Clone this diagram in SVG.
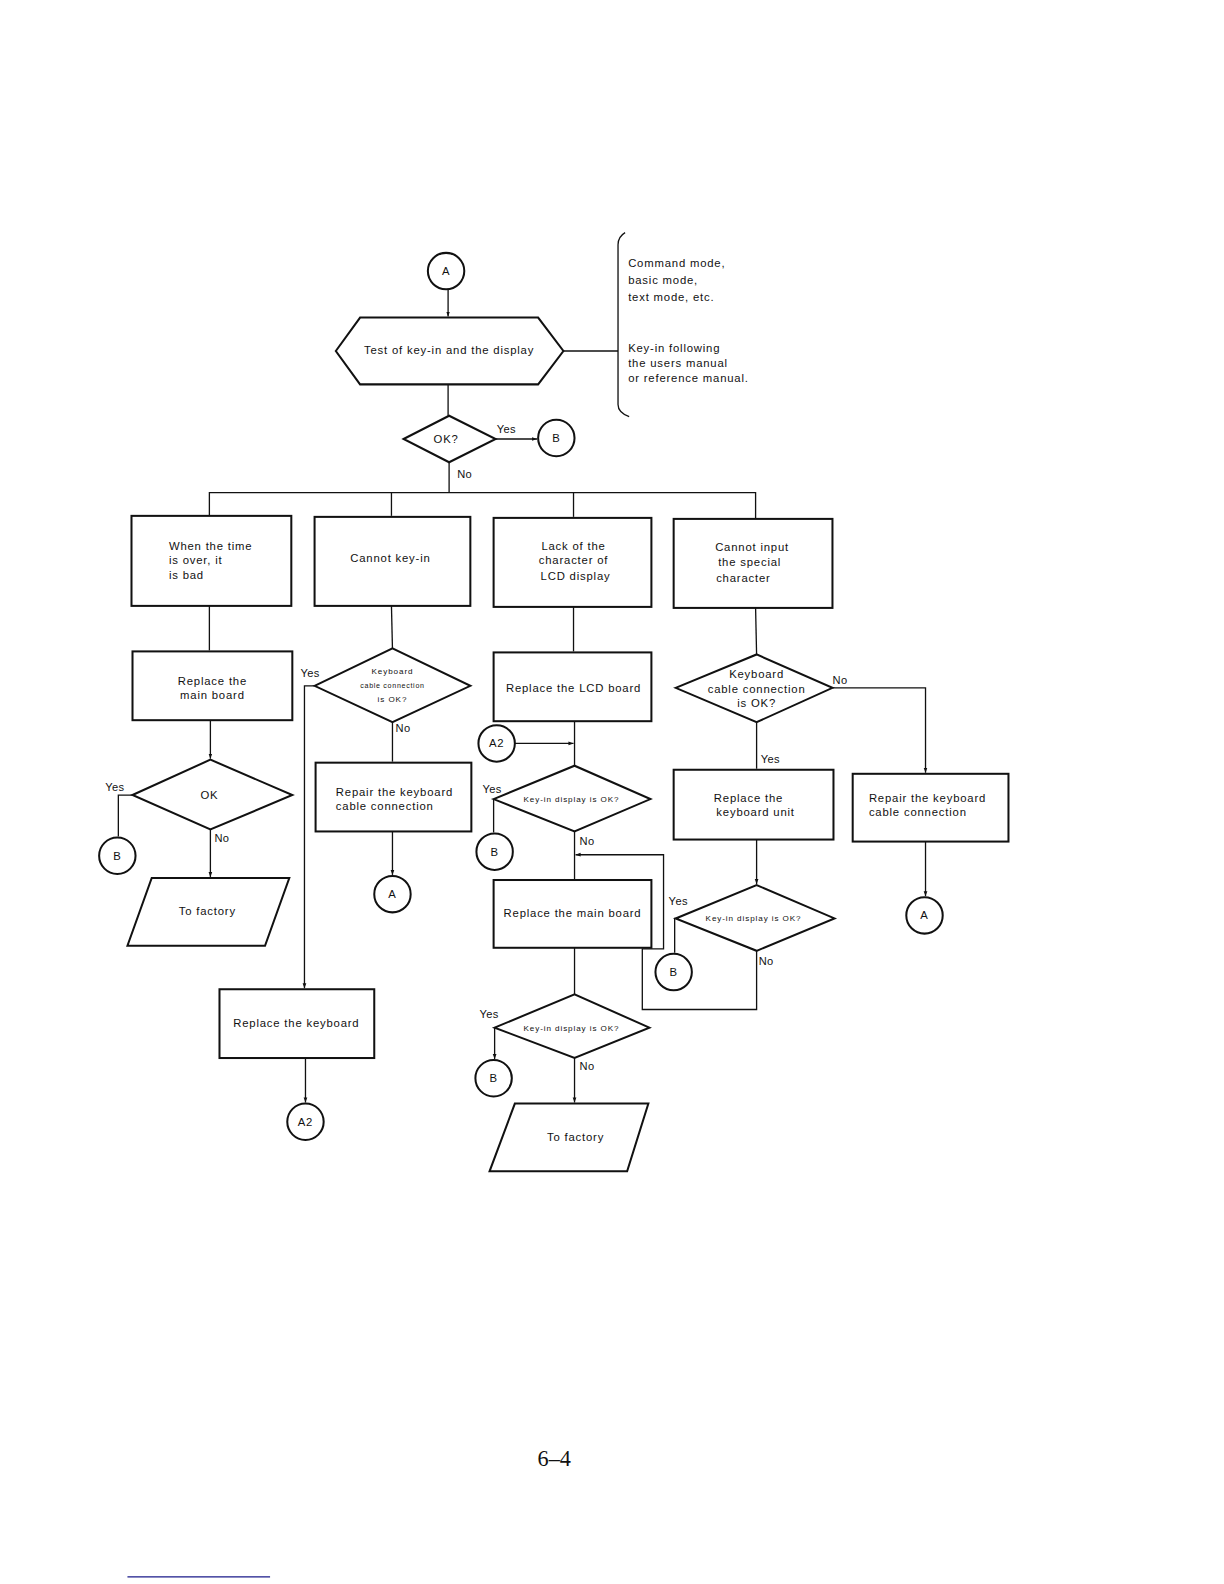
<svg xmlns="http://www.w3.org/2000/svg" width="1224" height="1584" viewBox="0 0 1224 1584">
<defs>
<marker id="ah" viewBox="0 0 6 6" refX="6" refY="3" markerWidth="5" markerHeight="5" orient="auto" markerUnits="userSpaceOnUse">
<path d="M0,0.8 L6,3 L0,5.2 Z" fill="#111"/>
</marker>
</defs>
<style>
.sh{fill:#fff;stroke:#111;stroke-width:2}
.cn{fill:none;stroke:#111;stroke-width:1.3}
.t{font-family:"Liberation Sans",Arial,sans-serif;font-size:11.2px;letter-spacing:0.8px;fill:#111}
.m{text-anchor:middle}
.s{font-size:8px;letter-spacing:0.9px}
.xs{font-size:7px;letter-spacing:0.7px}
.lb{font-family:"Liberation Sans",Arial,sans-serif;font-size:11px;letter-spacing:0.4px;fill:#111}
</style>
<rect width="1224" height="1584" fill="#fff"/>
<g transform="scale(1.0115)">
<g id="connectors">
<line class="cn" x1="443" y1="286" x2="443" y2="313" marker-end="url(#ah)"/>
<line class="cn" x1="557" y1="347" x2="611" y2="347"/>
<line class="cn" x1="443" y1="380" x2="443" y2="411"/>
<line class="cn" x1="490" y1="434" x2="531" y2="434" marker-end="url(#ah)"/>
<line class="cn" x1="444" y1="457" x2="444" y2="487"/>
<polyline class="cn" points="207,510 207,487 747,487 747,512"/>
<line class="cn" x1="387" y1="487" x2="387" y2="510"/>
<line class="cn" x1="567" y1="487" x2="567" y2="511"/>
<line class="cn" x1="207" y1="599" x2="207" y2="643"/>
<line class="cn" x1="208" y1="712" x2="208" y2="750" marker-end="url(#ah)"/>
<polyline class="cn" points="131,786 117,786 117,827"/>
<line class="cn" x1="208" y1="820" x2="208" y2="867" marker-end="url(#ah)"/>
<line class="cn" x1="387" y1="599" x2="388" y2="641"/>
<polyline class="cn" points="311,678 301,678 301,977" marker-end="url(#ah)"/>
<line class="cn" x1="388" y1="714" x2="388" y2="753"/>
<line class="cn" x1="388" y1="822" x2="388" y2="865" marker-end="url(#ah)"/>
<line class="cn" x1="302" y1="1046" x2="302" y2="1090" marker-end="url(#ah)"/>
<line class="cn" x1="567" y1="600" x2="567" y2="644"/>
<line class="cn" x1="568" y1="713" x2="568" y2="757"/>
<line class="cn" x1="509" y1="735" x2="567" y2="735" marker-end="url(#ah)"/>
<polyline class="cn" points="488,790 488,823"/>
<line class="cn" x1="568" y1="822" x2="568" y2="870"/>
<polyline class="cn" points="748,940 748,998 635,998 635,938 656,938 656,845 569,845" marker-end="url(#ah)"/>
<line class="cn" x1="568" y1="937" x2="568" y2="983"/>
<polyline class="cn" points="489,1016 489,1047" marker-end="url(#ah)"/>
<line class="cn" x1="568" y1="1046" x2="568" y2="1090" marker-end="url(#ah)"/>
<line class="cn" x1="747" y1="601" x2="748" y2="647"/>
<polyline class="cn" points="823,680 915,680 915,764" marker-end="url(#ah)"/>
<line class="cn" x1="748" y1="714" x2="748" y2="760"/>
<line class="cn" x1="748" y1="830" x2="748" y2="874" marker-end="url(#ah)"/>
<polyline class="cn" points="668,908 667,908 667,942"/>
<line class="cn" x1="915" y1="832" x2="915" y2="886" marker-end="url(#ah)"/>
</g>

<g id="labels">
<text class="lb" x="491" y="428">Yes</text>
<text class="lb" x="452" y="473">No</text>
<text class="lb" x="104" y="782">Yes</text>
<text class="lb" x="212" y="832">No</text>
<text class="lb" x="297" y="669">Yes</text>
<text class="lb" x="391" y="724">No</text>
<text class="lb" x="477" y="784">Yes</text>
<text class="lb" x="573" y="835">No</text>
<text class="lb" x="474" y="1006">Yes</text>
<text class="lb" x="573" y="1058">No</text>
<text class="lb" x="823" y="676">No</text>
<text class="lb" x="752" y="754">Yes</text>
<text class="lb" x="661" y="895">Yes</text>
<text class="lb" x="750" y="954">No</text>
</g>

<g id="nA_top">
<circle class="sh" cx="441" cy="268" r="18"/>
<text class="t m" x="441" y="272">A</text>
</g>
<g id="nTest">
<polygon class="sh" points="332,347 356,314 532,314 557,347 532,380 356,380"/>
<text class="t m" x="444" y="350">Test of key-in and the display</text>
</g>
<g id="nNote">
<path class="cn" d="M618,230 Q611,234 611,242 L611,400 Q611,408 622,412"/>
<text class="t" x="621" y="264">Command mode,</text>
<text class="t" x="621" y="281">basic mode,</text>
<text class="t" x="621" y="298">text mode, etc.</text>
<text class="t" x="621" y="348">Key-in following</text>
<text class="t" x="621" y="363">the users manual</text>
<text class="t" x="621" y="378">or reference manual.</text>
</g>
<g id="nOK">
<polygon class="sh" points="399,434 444,411 490,434 444,457"/>
<text class="t m" x="441" y="438">OK?</text>
</g>
<g id="nB_top">
<circle class="sh" cx="550" cy="433" r="18"/>
<text class="t m" x="550" y="437">B</text>
</g>

<g id="nBox1">
<rect class="sh" x="130" y="510" width="158" height="89"/>
<text class="t" x="167" y="544">When the time</text>
<text class="t" x="167" y="558">is over, it</text>
<text class="t" x="167" y="572">is bad</text>
</g>
<g id="nBox2">
<rect class="sh" x="311" y="511" width="154" height="88"/>
<text class="t m" x="386" y="556">Cannot key-in</text>
</g>
<g id="nBox3">
<rect class="sh" x="488" y="512" width="156" height="88"/>
<text class="t m" x="567" y="544">Lack of the</text>
<text class="t m" x="567" y="558">character of</text>
<text class="t m" x="569" y="573">LCD display</text>
</g>
<g id="nBox4">
<rect class="sh" x="666" y="513" width="157" height="88"/>
<text class="t" x="707" y="545">Cannot input</text>
<text class="t" x="710" y="560">the special</text>
<text class="t" x="708" y="575">character</text>
</g>

<g id="nMain1">
<rect class="sh" x="131" y="644" width="158" height="68"/>
<text class="t m" x="210" y="677">Replace the</text>
<text class="t m" x="210" y="691">main board</text>
</g>
<g id="nOK1">
<polygon class="sh" points="131,786 208,751 289,786 208,820"/>
<text class="t m" x="207" y="790">OK</text>
</g>
<g id="nB1">
<circle class="sh" cx="116" cy="846" r="18"/>
<text class="t m" x="116" y="850">B</text>
</g>
<g id="nFactory1">
<polygon class="sh" points="150,868 286,868 262,935 126,935"/>
<text class="t m" x="205" y="905">To factory</text>
</g>

<g id="nKbd2">
<polygon class="sh" points="311,678 388,641 465,678 388,714"/>
<text class="t m s" x="388" y="666">Keyboard</text>
<text class="t m xs" x="388" y="680">cable connection</text>
<text class="t m s" x="388" y="694">is OK?</text>
</g>
<g id="nRepair2">
<rect class="sh" x="312" y="754" width="154" height="68"/>
<text class="t" x="332" y="787">Repair the keyboard</text>
<text class="t" x="332" y="801">cable connection</text>
</g>
<g id="nA2col">
<circle class="sh" cx="388" cy="884" r="18"/>
<text class="t m" x="388" y="888">A</text>
</g>
<g id="nReplKbd">
<rect class="sh" x="217" y="978" width="153" height="68"/>
<text class="t m" x="293" y="1015">Replace the keyboard</text>
</g>
<g id="nA2out">
<circle class="sh" cx="302" cy="1109" r="18"/>
<text class="t m" x="302" y="1113">A2</text>
</g>

<g id="nLCD">
<rect class="sh" x="488" y="645" width="156" height="68"/>
<text class="t m" x="567" y="684">Replace the LCD board</text>
</g>
<g id="nA2in">
<circle class="sh" cx="491" cy="735" r="18"/>
<text class="t m" x="491" y="739">A2</text>
</g>
<g id="nKey3a">
<polygon class="sh" points="488,790 568,757 643,790 568,822"/>
<text class="t m s" x="565" y="793">Key-in display is OK?</text>
</g>
<g id="nB3a">
<circle class="sh" cx="489" cy="842" r="18"/>
<text class="t m" x="489" y="846">B</text>
</g>
<g id="nMain3">
<rect class="sh" x="488" y="870" width="156" height="67"/>
<text class="t m" x="566" y="907">Replace the main board</text>
</g>
<g id="nKey3b">
<polygon class="sh" points="489,1016 568,983 642,1016 568,1046"/>
<text class="t m s" x="565" y="1019">Key-in display is OK?</text>
</g>
<g id="nB3b">
<circle class="sh" cx="488" cy="1066" r="18"/>
<text class="t m" x="488" y="1070">B</text>
</g>
<g id="nFactory3">
<polygon class="sh" points="509,1091 641,1091 620,1158 484,1158"/>
<text class="t m" x="569" y="1128">To factory</text>
</g>

<g id="nKbd4">
<polygon class="sh" points="668,680 748,647 823,680 748,714"/>
<text class="t m" x="748" y="670">Keyboard</text>
<text class="t m" x="748" y="685">cable connection</text>
<text class="t m" x="748" y="699">is OK?</text>
</g>
<g id="nKbdUnit">
<rect class="sh" x="666" y="761" width="158" height="69"/>
<text class="t m" x="740" y="793">Replace the</text>
<text class="t m" x="747" y="807">keyboard unit</text>
</g>
<g id="nKey4">
<polygon class="sh" points="668,908 748,875 825,908 748,940"/>
<text class="t m s" x="745" y="911">Key-in display is OK?</text>
</g>
<g id="nB4">
<circle class="sh" cx="666" cy="961" r="18"/>
<text class="t m" x="666" y="965">B</text>
</g>
<g id="nRepair4">
<rect class="sh" x="843" y="765" width="154" height="67"/>
<text class="t" x="859" y="793">Repair the keyboard</text>
<text class="t" x="859" y="807">cable connection</text>
</g>
<g id="nA4">
<circle class="sh" cx="914" cy="905" r="18"/>
<text class="t m" x="914" y="909">A</text>
</g>

<text x="548" y="1449" text-anchor="middle" style="font-family:'Liberation Serif','Times New Roman',serif;font-size:22px;fill:#111">6–4</text>
<line x1="126" y1="1559" x2="267" y2="1559" stroke="#1a1a8a" stroke-width="1.3"/>
</g>
</svg>
